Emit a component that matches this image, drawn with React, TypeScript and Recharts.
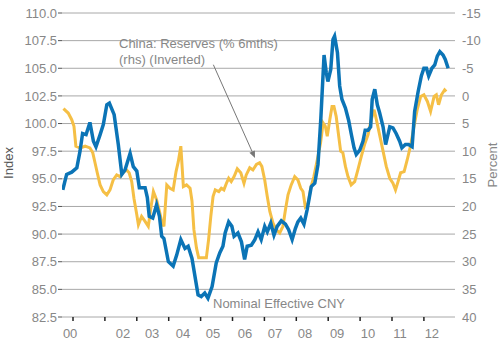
import React from 'react';
import { LineChart, Line, XAxis, YAxis, CartesianGrid, ReferenceLine, Customized } from 'recharts';

// Nominal effective CNY index (lhs)
const cnyDates = [
  2000.68, 2000.80, 2000.96, 2001.12, 2001.22, 2001.30, 2001.41, 2001.53, 2001.64, 2001.72,
  2001.85, 2001.95, 2002.06, 2002.14, 2002.29, 2002.42, 2002.53, 2002.63, 2002.79, 2002.89,
  2003.00, 2003.08, 2003.26, 2003.33, 2003.39, 2003.50, 2003.62, 2003.71, 2003.78, 2003.85,
  2003.99, 2004.14, 2004.25, 2004.38, 2004.51, 2004.61, 2004.73, 2004.92, 2005.02, 2005.13,
  2005.23, 2005.36, 2005.49, 2005.60, 2005.70, 2005.77, 2005.88, 2005.98, 2006.05, 2006.17,
  2006.28, 2006.38, 2006.46, 2006.59, 2006.70, 2006.80, 2006.90, 2007.01, 2007.09, 2007.20,
  2007.30, 2007.40, 2007.53, 2007.66, 2007.76, 2007.87, 2007.97, 2008.05, 2008.14, 2008.24,
  2008.34, 2008.47, 2008.58, 2008.68, 2008.77, 2008.87, 2008.94, 2008.99, 2009.08, 2009.15,
  2009.20, 2009.29, 2009.36, 2009.43, 2009.54, 2009.64, 2009.72, 2009.81, 2009.88, 2009.99,
  2010.09, 2010.16, 2010.25, 2010.33, 2010.38, 2010.46, 2010.54, 2010.61, 2010.72, 2010.80,
  2010.93, 2011.03, 2011.13, 2011.24, 2011.31, 2011.42, 2011.52, 2011.63, 2011.71, 2011.82,
  2011.92, 2012.00, 2012.08, 2012.15, 2012.25, 2012.34, 2012.42, 2012.50, 2012.60, 2012.67,
  2012.76,
];
const cnyIndex = [
  94.0, 95.4, 95.6, 96.0, 97.5, 99.1, 99.0, 100.1, 98.4, 97.9,
  99.0, 99.9, 101.7, 101.85, 100.8, 98.1, 95.4, 95.8, 97.3, 96.1,
  95.7, 94.2, 94.2, 93.3, 91.6, 91.45, 92.65, 91.6, 89.8, 89.6,
  87.5, 87.1, 88.1, 89.5, 88.7, 88.9, 87.8, 84.5, 84.35, 84.66,
  84.2, 85.26, 87.4, 88.3, 88.9, 90.1, 91.1, 90.7, 89.8, 90.1,
  89.3, 87.7, 88.9, 89.0, 89.5, 90.2, 89.5, 90.7, 90.2, 91.0,
  89.9, 90.7, 91.2, 90.9, 90.4, 89.5, 90.5, 91.1, 91.45, 90.9,
  92.2, 94.3, 94.6, 96.3, 100.5, 106.2, 104.6, 103.8, 104.9, 107.6,
  107.9, 106.4, 103.4, 102.2, 101.4, 100.3, 99.1, 97.8, 97.2, 97.6,
  98.4, 99.4, 99.4, 99.7, 102.2, 103.1, 101.7, 101.0, 99.7, 98.1,
  99.7, 99.6, 99.1, 98.4, 97.8, 98.1, 98.1, 97.9, 101.1, 102.9,
  104.3, 105.0, 105.0, 104.3, 105.0, 105.3, 106.1, 106.5, 106.2, 105.8,
  105.0,
];

// China reserves, % change over 6 months (rhs, inverted)
const reserveDates = [
  2000.70, 2000.85, 2000.96, 2001.03, 2001.09, 2001.22, 2001.38, 2001.53, 2001.62, 2001.69,
  2001.76, 2001.85, 2001.95, 2002.06, 2002.16, 2002.26, 2002.37, 2002.47, 2002.58, 2002.68,
  2002.76, 2002.84, 2002.91, 2003.00, 2003.05, 2003.15, 2003.26, 2003.36, 2003.44, 2003.52,
  2003.62, 2003.71, 2003.78, 2003.85, 2003.94, 2004.04, 2004.14, 2004.23, 2004.30, 2004.38,
  2004.46, 2004.56, 2004.67, 2004.73, 2004.79, 2004.87, 2004.94, 2005.08, 2005.18, 2005.25,
  2005.32, 2005.39, 2005.46, 2005.57, 2005.65, 2005.73, 2005.81, 2005.88, 2005.96, 2006.05,
  2006.15, 2006.26, 2006.36, 2006.43, 2006.54, 2006.64, 2006.75, 2006.85, 2006.92, 2007.01,
  2007.09, 2007.17, 2007.27, 2007.37, 2007.48, 2007.58, 2007.66, 2007.74, 2007.84, 2007.95,
  2008.05, 2008.14, 2008.21, 2008.28, 2008.37, 2008.45, 2008.55, 2008.66, 2008.76, 2008.84,
  2008.91, 2008.97, 2009.05, 2009.12, 2009.18, 2009.25, 2009.33, 2009.39, 2009.46, 2009.54,
  2009.62, 2009.72, 2009.83, 2009.93, 2010.04, 2010.14, 2010.25, 2010.35, 2010.44, 2010.51,
  2010.61, 2010.72, 2010.82, 2010.93, 2011.03, 2011.11, 2011.19, 2011.27, 2011.38, 2011.48,
  2011.59, 2011.69, 2011.79, 2011.90, 2012.00, 2012.11, 2012.21, 2012.32, 2012.39, 2012.46,
  2012.55, 2012.65, 2012.70,
];
const reservePct = [
  2.3, 3.1, 4.3, 5.5, 9.1, 9.4, 9.1, 9.4, 10.3, 12.1,
  13.9, 16.1, 17.3, 17.9, 17.0, 15.2, 14.3, 14.6, 13.8, 13.4,
  13.9, 15.5, 18.5, 21.5, 23.3, 21.8, 22.7, 23.6, 20.3, 17.3,
  18.8, 20.9, 22.7, 23.6, 16.1, 16.7, 17.0, 13.7, 11.9, 9.1,
  16.4, 16.1, 16.7, 19.0, 24.2, 27.5, 29.3, 29.3, 29.3, 26.0,
  21.8, 18.2, 17.0, 17.3, 16.7, 17.0, 15.8, 14.9, 15.5, 14.6,
  13.2, 13.9, 15.8, 14.3, 13.0, 13.4, 12.4, 12.1, 12.75, 15.2,
  18.2, 20.9, 23.0, 24.2, 24.8, 23.6, 20.6, 17.9, 16.1, 14.6,
  15.2, 16.7, 17.3, 20.0, 19.4, 16.7, 14.6, 11.5, 8.5, 4.9,
  5.5, 7.3, 4.3, 1.9, 1.9, 3.7, 7.3, 10.0, 10.3, 12.75,
  14.6, 16.1, 15.5, 13.4, 10.9, 8.8, 7.0, 4.3, 2.5, 4.3,
  7.0, 10.0, 12.75, 14.9, 15.8, 17.0, 15.5, 13.9, 13.7, 11.5,
  8.8, 5.5, 2.5, 0.1, -0.2, 1.0, 2.8, 0.1, -0.2, 1.6,
  -0.2, -1.1, -0.8,
];

const leftTicks = [82.5, 85, 87.5, 90, 92.5, 95, 97.5, 100, 102.5, 105, 107.5, 110];
const rightTicks = [-15, -10, -5, 0, 5, 10, 15, 20, 25, 30, 35, 40];
const yearTicks = [2001, 2002, 2003, 2004, 2005, 2006, 2007, 2008, 2009, 2010, 2011, 2012];
const yearLabelPos = [2000.91, 2002.57, 2003.48, 2004.45, 2005.39, 2006.39, 2007.33, 2008.27, 2009.28, 2010.25, 2011.25, 2012.25];
const yearLabels = ['00', '02', '03', '04', '05', '06', '07', '08', '09', '10', '11', '12'];

const X_DOMAIN = [2000.655, 2012.975];

const cnyData = cnyDates.map((t, i) => ({ t, v: cnyIndex[i] }));
const reserveData = reserveDates.map((t, i) => ({ t, v: reservePct[i] }));

const arrowSegment = [
  { x: 2005.40, y: 105.32 },
  { x: 2006.705, y: 96.88 },
];

const TEXT = '#878787';
const FONT = '"Liberation Sans", Arial, sans-serif';

const ArrowShape = (props: any) => {
  const { x1, y1, x2, y2 } = props;
  if (x1 == null) return null;
  const ang = Math.atan2(y2 - y1, x2 - x1);
  const len = 7;
  const w = 3;
  const bx = x2 - len * Math.cos(ang);
  const by = y2 - len * Math.sin(ang);
  const px = -Math.sin(ang) * w;
  const py = Math.cos(ang) * w;
  return (
    <g>
      <line x1={x1} y1={y1} x2={bx} y2={by} stroke="#777" strokeWidth={1} />
      <polygon points={`${x2},${y2} ${bx + px},${by + py} ${bx - px},${by - py}`} fill="#777" />
    </g>
  );
};

const Annotations = () => (
  <g style={{ fontFamily: FONT }}>
    <text x={119} y={48} fontSize={13} fill={TEXT}>China: Reserves (% 6mths)</text>
    <text x={119} y={64} fontSize={13} fill={TEXT}>(rhs) (Inverted)</text>
    <text x={213} y={308} fontSize={13} fill={TEXT}>Nominal Effective CNY</text>
    <text transform="translate(13,163) rotate(-90)" textAnchor="middle" fontSize={13} fill="#555">Index</text>
    <text transform="translate(497,165) rotate(-90)" textAnchor="middle" fontSize={13} fill={TEXT}>Percent</text>
  </g>
);

export default function App() {
  return (
    <div style={{ position: 'absolute', left: 0, top: 0, background: '#fff' }}>
      <LineChart
        width={502}
        height={343}
        margin={{ top: 13, right: 0, bottom: 0, left: 0 }}
        style={{ fontFamily: FONT }}
      >
        <CartesianGrid yAxisId="left" xAxisId="a" vertical={false} stroke="#a8a8a8" strokeWidth={1} />
        <XAxis
          xAxisId="a"
          type="number"
          dataKey="t"
          domain={X_DOMAIN}
          allowDataOverflow
          ticks={yearTicks}
          interval={0}
          tickFormatter={() => ''}
          tickSize={4}
          tickLine={{ stroke: '#222', strokeWidth: 1.5 }}
          axisLine={false}
          height={1}
        />
        <XAxis
          xAxisId="b"
          type="number"
          dataKey="t"
          domain={X_DOMAIN}
          allowDataOverflow
          ticks={yearLabelPos}
          interval={0}
          tickFormatter={(_v: number, i: number) => yearLabels[i]}
          tickLine={false}
          axisLine={false}
          tickSize={0}
          tickMargin={11}
          tick={{ fill: TEXT, fontSize: 13 }}
          height={25}
        />
        <YAxis
          yAxisId="left"
          domain={[82.5, 110]}
          ticks={leftTicks}
          interval={0}
          allowDataOverflow
          width={62}
          tickSize={4}
          tickMargin={1}
          tickLine={{ stroke: '#555' }}
          axisLine={false}
          tickFormatter={(v: number) => v.toFixed(1)}
          tick={{ fill: TEXT, fontSize: 13 }}
        />
        <YAxis
          yAxisId="right"
          orientation="right"
          reversed
          domain={[-15, 40]}
          ticks={rightTicks}
          interval={0}
          allowDataOverflow
          width={47}
          tickSize={4}
          tickMargin={3}
          tickLine={false}
          axisLine={false}
          tick={{ fill: TEXT, fontSize: 13 }}
        />
        <Line
          xAxisId="a"
          yAxisId="right"
          data={reserveData}
          dataKey="v"
          type="linear"
          stroke="#f5bf45"
          strokeWidth={3}
          dot={false}
          activeDot={false}
          isAnimationActive={false}
        />
        <Line
          xAxisId="a"
          yAxisId="left"
          data={cnyData}
          dataKey="v"
          type="linear"
          stroke="#0b74b6"
          strokeWidth={3.5}
          dot={false}
          activeDot={false}
          isAnimationActive={false}
        />
        <ReferenceLine
          xAxisId="a"
          yAxisId="left"
          segment={arrowSegment}
          ifOverflow="visible"
          shape={ArrowShape}
        />
        <Customized component={Annotations} />
      </LineChart>
    </div>
  );
}
